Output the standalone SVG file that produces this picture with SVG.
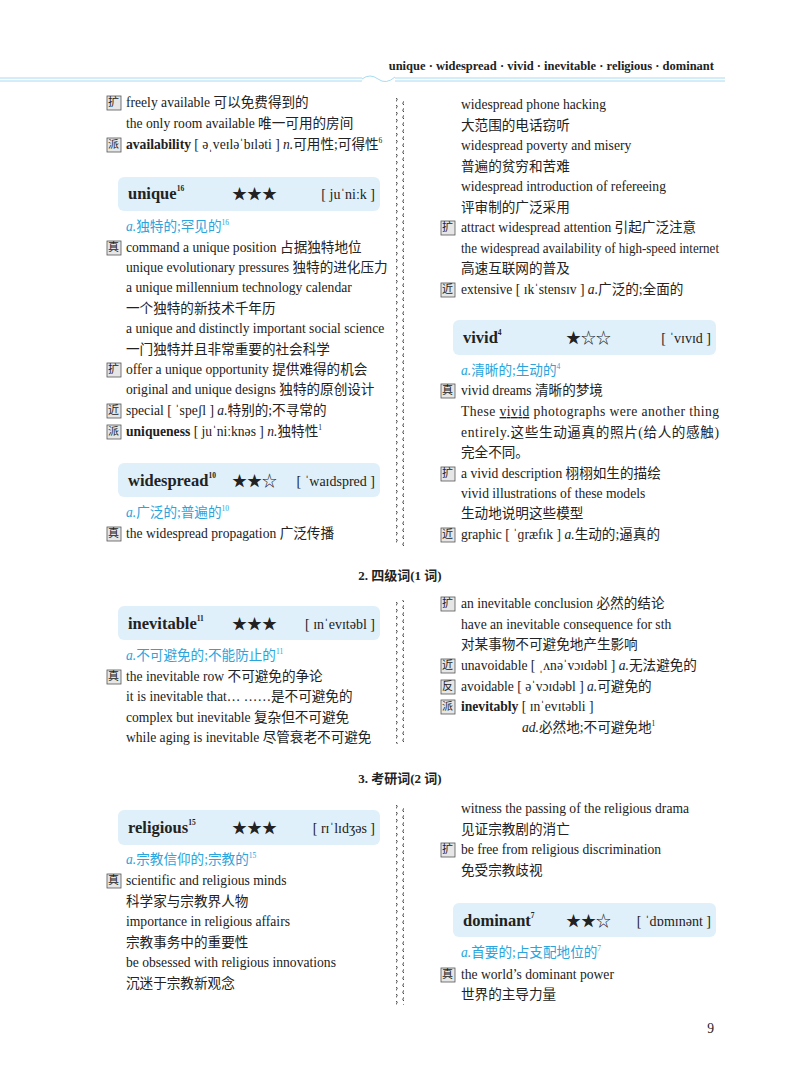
<svg xmlns="http://www.w3.org/2000/svg" width="800" height="1077" viewBox="0 0 800 1077">
<style>
text{font-family:"Liberation Serif","Noto Sans CJK SC",serif;font-size:13.6px;fill:#222}
.h{font-weight:bold;font-size:12.5px}
.w{font-weight:bold;font-size:16.5px}
.s{font-size:7.5px}
.st{font-size:15px}
.p{font-size:14px}
.d{fill:#2ba4dc}
.sec{font-weight:bold;font-size:13px}
.tg{fill:#e6e6e6;stroke:#555;stroke-width:0.8}
.tc{font-size:11px;font-family:"Noto Sans CJK SC",sans-serif}
.box{fill:#dff0fa}
.bl{stroke:#a8dcf2;stroke-width:1;fill:none}
</style>
<defs>
<pattern id="wv" width="8" height="7" patternUnits="userSpaceOnUse"><path d="M4,0 C8,1.5 0,5 4,7" fill="none" stroke="#333" stroke-width="1"/></pattern>
<g id="k"><rect class="tg" x="0" y="-11" width="14" height="14"/></g>
</defs>
<rect width="800" height="1077" fill="#fff"/>
<text class="h" x="714" y="70" text-anchor="end">unique · widespread · vivid · inevitable · religious · dominant</text>
<path class="bl" d="M0,78 H362 M0,81 H362 M395,78 H725 M395,81 H725"/>
<path class="bl" d="M362,79 q8,-6 16,0 q8,6 17,-2"/>
<g id="dividers">
<rect x="396" y="98" width="8" height="448" fill="url(#wv)"/>
<rect x="396" y="600" width="8" height="144" fill="url(#wv)"/>
<rect x="396" y="805" width="8" height="200" fill="url(#wv)"/>
</g>
<g id="left1">
<use href="#k" x="107" y="107"/><text class="tc" x="108" y="106">扩</text>
<text x="126" y="107">freely available 可以免费得到的</text>
<text x="126" y="128">the only room available 唯一可用的房间</text>
<use href="#k" x="107" y="149"/><text class="tc" x="108" y="148">派</text>
<text x="126" y="149"><tspan font-weight="bold">availability</tspan> [ əˌveɪləˈbɪləti ] <tspan font-style="italic">n.</tspan>可用性;可得性<tspan class="s" dy="-6">6</tspan></text>
</g>
<g id="unique">
<rect class="box" x="118" y="177" width="262" height="34" rx="6"/>
<text class="w" x="128" y="199">unique<tspan class="s" dy="-8">16</tspan></text>
<text class="st" x="232" y="199">★★★</text>
<text class="p" x="375" y="199" text-anchor="end">[ juˈniːk ]</text>
<text class="d" x="126" y="231"><tspan font-style="italic">a.</tspan>独特的;罕见的<tspan class="s" dy="-6">16</tspan></text>
<use href="#k" x="107" y="252"/><text class="tc" x="108" y="251">真</text>
<text x="126" y="252">command a unique position 占据独特地位</text>
<text x="126" y="272">unique evolutionary pressures 独特的进化压力</text>
<text x="126" y="292">a unique millennium technology calendar</text>
<text x="126" y="313">一个独特的新技术千年历</text>
<text x="126" y="333">a unique and distinctly important social science</text>
<text x="126" y="354">一门独特并且非常重要的社会科学</text>
<use href="#k" x="107" y="374"/><text class="tc" x="108" y="373">扩</text>
<text x="126" y="374">offer a unique opportunity 提供难得的机会</text>
<text x="126" y="394">original and unique designs 独特的原创设计</text>
<use href="#k" x="107" y="415"/><text class="tc" x="108" y="414">近</text>
<text x="126" y="415">special [ ˈspeʃl ] <tspan font-style="italic">a.</tspan>特别的;不寻常的</text>
<use href="#k" x="107" y="436"/><text class="tc" x="108" y="435">派</text>
<text x="126" y="436"><tspan font-weight="bold">uniqueness</tspan> [ juˈniːknəs ] <tspan font-style="italic">n.</tspan>独特性<tspan class="s" dy="-6">1</tspan></text>
</g>
<g id="widespread">
<rect class="box" x="118" y="463" width="262" height="34" rx="6"/>
<text class="w" x="128" y="486">widespread<tspan class="s" dy="-8">10</tspan></text>
<text class="st" x="232" y="486">★★☆</text>
<text class="p" x="375" y="486" text-anchor="end">[ ˈwaɪdspred ]</text>
<text class="d" x="126" y="517"><tspan font-style="italic">a.</tspan>广泛的;普遍的<tspan class="s" dy="-6">10</tspan></text>
<use href="#k" x="107" y="538"/><text class="tc" x="108" y="537">真</text>
<text x="126" y="538">the widespread propagation 广泛传播</text>
</g>
<g id="right1">
<text x="461" y="109">widespread phone hacking</text>
<text x="461" y="130">大范围的电话窃听</text>
<text x="461" y="150">widespread poverty and misery</text>
<text x="461" y="171">普遍的贫穷和苦难</text>
<text x="461" y="191">widespread introduction of refereeing</text>
<text x="461" y="212">评审制的广泛采用</text>
<use href="#k" x="441" y="232"/><text class="tc" x="442" y="231">扩</text>
<text x="461" y="232">attract widespread attention 引起广泛注意</text>
<text x="461" y="253" textLength="258" lengthAdjust="spacingAndGlyphs">the widespread availability of high-speed internet</text>
<text x="461" y="273">高速互联网的普及</text>
<use href="#k" x="441" y="294"/><text class="tc" x="442" y="293">近</text>
<text x="461" y="294">extensive [ ɪkˈstensɪv ] <tspan font-style="italic">a.</tspan>广泛的;全面的</text>
</g>
<g id="vivid">
<rect class="box" x="453" y="320" width="263" height="35" rx="6"/>
<text class="w" x="463" y="343">vivid<tspan class="s" dy="-8">4</tspan></text>
<text class="st" x="566" y="343">★☆☆</text>
<text class="p" x="711" y="343" text-anchor="end">[ ˈvɪvɪd ]</text>
<text class="d" x="461" y="375"><tspan font-style="italic">a.</tspan>清晰的;生动的<tspan class="s" dy="-6">4</tspan></text>
<use href="#k" x="441" y="395"/><text class="tc" x="442" y="394">真</text>
<text x="461" y="395">vivid dreams 清晰的梦境</text>
<text x="461" y="416" textLength="258" lengthAdjust="spacing">These <tspan text-decoration="underline">vivid</tspan> photographs were another thing</text>
<text x="461" y="437" textLength="258" lengthAdjust="spacing">entirely.这些生动逼真的照片(给人的感触)</text>
<text x="461" y="457">完全不同。</text>
<use href="#k" x="441" y="478"/><text class="tc" x="442" y="477">扩</text>
<text x="461" y="478">a vivid description 栩栩如生的描绘</text>
<text x="461" y="498">vivid illustrations of these models</text>
<text x="461" y="518">生动地说明这些模型</text>
<use href="#k" x="441" y="539"/><text class="tc" x="442" y="538">近</text>
<text x="461" y="539">graphic [ ˈɡræfɪk ] <tspan font-style="italic">a.</tspan>生动的;逼真的</text>
</g>
<text class="sec" x="400" y="580" text-anchor="middle">2. 四级词(1 词)</text>
<g id="inevitable">
<rect class="box" x="118" y="606" width="262" height="34" rx="6"/>
<text class="w" x="128" y="629">inevitable<tspan class="s" dy="-8">11</tspan></text>
<text class="st" x="232" y="629">★★★</text>
<text class="p" x="375" y="629" text-anchor="end">[ ɪnˈevɪtəbl ]</text>
<text class="d" x="126" y="660"><tspan font-style="italic">a.</tspan>不可避免的;不能防止的<tspan class="s" dy="-6">11</tspan></text>
<use href="#k" x="107" y="681"/><text class="tc" x="108" y="680">真</text>
<text x="126" y="681">the inevitable row 不可避免的争论</text>
<text x="126" y="701">it is inevitable that… ……是不可避免的</text>
<text x="126" y="722">complex but inevitable 复杂但不可避免</text>
<text x="126" y="742">while aging is inevitable 尽管衰老不可避免</text>
<use href="#k" x="441" y="608"/><text class="tc" x="442" y="607">扩</text>
<text x="461" y="608">an inevitable conclusion 必然的结论</text>
<text x="461" y="629">have an inevitable consequence for sth</text>
<text x="461" y="649">对某事物不可避免地产生影响</text>
<use href="#k" x="441" y="670"/><text class="tc" x="442" y="669">近</text>
<text x="461" y="670">unavoidable [ ˌʌnəˈvɔɪdəbl ] <tspan font-style="italic">a.</tspan>无法避免的</text>
<use href="#k" x="441" y="691"/><text class="tc" x="442" y="690">反</text>
<text x="461" y="691">avoidable [ əˈvɔɪdəbl ] <tspan font-style="italic">a.</tspan>可避免的</text>
<use href="#k" x="441" y="711"/><text class="tc" x="442" y="710">派</text>
<text x="461" y="711"><tspan font-weight="bold">inevitably</tspan> [ ɪnˈevɪtəbli ]</text>
<text x="522" y="732"><tspan font-style="italic">ad.</tspan>必然地;不可避免地<tspan class="s" dy="-6">1</tspan></text>
</g>
<text class="sec" x="400" y="783" text-anchor="middle">3. 考研词(2 词)</text>
<g id="religious">
<rect class="box" x="118" y="810" width="262" height="35" rx="6"/>
<text class="w" x="128" y="833">religious<tspan class="s" dy="-8">15</tspan></text>
<text class="st" x="232" y="833">★★★</text>
<text class="p" x="375" y="833" text-anchor="end">[ rɪˈlɪdʒəs ]</text>
<text class="d" x="126" y="864"><tspan font-style="italic">a.</tspan>宗教信仰的;宗教的<tspan class="s" dy="-6">15</tspan></text>
<use href="#k" x="107" y="885"/><text class="tc" x="108" y="884">真</text>
<text x="126" y="885">scientific and religious minds</text>
<text x="126" y="906">科学家与宗教界人物</text>
<text x="126" y="926">importance in religious affairs</text>
<text x="126" y="947">宗教事务中的重要性</text>
<text x="126" y="967">be obsessed with religious innovations</text>
<text x="126" y="988">沉迷于宗教新观念</text>
<text x="461" y="813">witness the passing of the religious drama</text>
<text x="461" y="834">见证宗教剧的消亡</text>
<use href="#k" x="441" y="854"/><text class="tc" x="442" y="853">扩</text>
<text x="461" y="854">be free from religious discrimination</text>
<text x="461" y="875">免受宗教歧视</text>
</g>
<g id="dominant">
<rect class="box" x="453" y="903" width="263" height="34" rx="6"/>
<text class="w" x="463" y="926">dominant<tspan class="s" dy="-8">7</tspan></text>
<text class="st" x="566" y="926">★★☆</text>
<text class="p" x="711" y="926" text-anchor="end">[ ˈdɒmɪnənt ]</text>
<text class="d" x="461" y="957"><tspan font-style="italic">a.</tspan>首要的;占支配地位的<tspan class="s" dy="-6">7</tspan></text>
<use href="#k" x="441" y="979"/><text class="tc" x="442" y="978">真</text>
<text x="461" y="979">the world’s dominant power</text>
<text x="461" y="999">世界的主导力量</text>
</g>
<text x="714" y="1033" text-anchor="end" font-size="13">9</text>
</svg>
